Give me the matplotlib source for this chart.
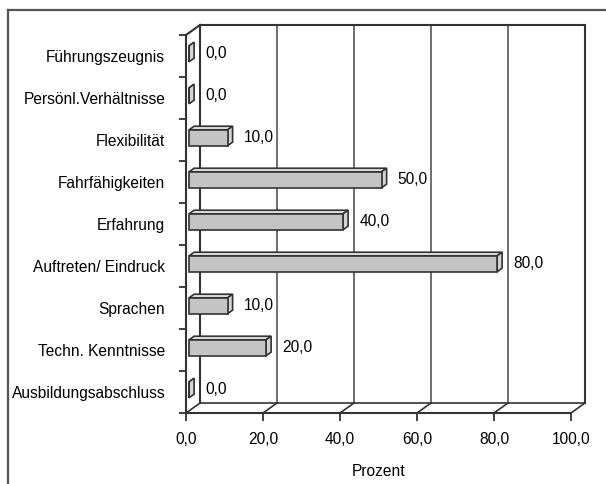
import numpy as np
import matplotlib
matplotlib.use("Agg")
from matplotlib import pyplot as plt
from matplotlib.patches import Polygon
from matplotlib.lines import Line2D

kategorien = ["Führungszeugnis", "Persönl.Verhältnisse", "Flexibilität",
              "Fahrfähigkeiten", "Erfahrung", "Auftreten/ Eindruck",
              "Sprachen", "Techn. Kenntnisse", "Ausbildungsabschluss"]
prozent = [0.0, 0.0, 10.0, 50.0, 40.0, 80.0, 10.0, 20.0, 0.0]
xwerte = [0, 20, 40, 60, 80, 100]

plt.rcParams['font.family'] = ['Liberation Sans', 'DejaVu Sans']
plt.rcParams['font.size'] = 11.2

dunkel = '#333333'
W, H = 606, 484
fig = plt.figure(figsize=(W / 100, H / 100), dpi=100)
ax = fig.add_axes([186 / W, 71 / H, 385 / W, 378 / H])
n = len(kategorien)
ax.set_xlim(0, 100)
ax.set_ylim(n - 0.5, -0.5)
for s in ax.spines.values():
    s.set_visible(False)

# Tiefe der 3D-Box in Datenkoordinaten (14 px nach rechts, 10 px nach oben)
DX = 14 / (385 / 100)
DY = -10 / (378 / n)
oben, unten = -0.5, n - 0.5


def linie(xs, ys, **kw):
    kw.setdefault('color', dunkel)
    kw.setdefault('lw', 1.5)
    ax.add_line(Line2D(xs, ys, clip_on=False, solid_capstyle='projecting', **kw))


# Rueckwand
ax.add_patch(Polygon([(DX, oben + DY), (100 + DX, oben + DY),
                      (100 + DX, unten + DY), (DX, unten + DY)],
                     closed=True, fc='white', ec='none', clip_on=False, zorder=0))
for x in xwerte[1:-1]:
    linie([x + DX, x + DX], [oben + DY, unten + DY], color='#555555', lw=1.2)
linie([100 + DX, 100 + DX], [oben + DY, unten + DY])
linie([DX, 100 + DX], [oben + DY, oben + DY])
linie([DX, DX], [oben + DY, unten + DY])
# linke Wand
linie([0, DX], [oben, oben + DY])
linie([0, 0], [oben, unten])
# Boden
linie([0, 100], [unten, unten])
linie([DX, 100 + DX], [unten + DY, unten + DY], lw=1.2)
for x in xwerte:
    linie([x, x + DX], [unten, unten + DY], lw=1.2)

# Balken
f0, f1 = 0.22, 0.58
h = 0.19
for i, v in enumerate(prozent):
    xa0, xe0 = f0 * DX, v + f0 * DX
    xa1, xe1 = f1 * DX, v + f1 * DX
    yt0, yb0 = i - h + f0 * DY, i + h + f0 * DY
    yt1, yb1 = i - h + f1 * DY, i + h + f1 * DY
    top = [(xa0, yt0), (xe0, yt0), (xe1, yt1), (xa1, yt1)]
    side = [(xe0, yt0), (xe0, yb0), (xe1, yb1), (xe1, yt1)]
    front = [(xa0, yt0), (xe0, yt0), (xe0, yb0), (xa0, yb0)]
    for pts, fc in [(top, '#dedede'), (side, '#d4d4d4'), (front, '#c4c4c4')]:
        ax.add_patch(Polygon(pts, closed=True, fc=fc, ec=dunkel, lw=1.2,
                             joinstyle='miter', clip_on=False, zorder=3))
    ax.text(v + 5, i - 0.05, f"{v:.1f}".replace('.', ','),
            ha='left', va='center', zorder=4)

# Achsen
ax.set_xticks(xwerte)
ax.set_xticklabels([f"{x:.1f}".replace('.', ',') for x in xwerte])
ax.tick_params(axis='x', length=6, width=1.3, color=dunkel, pad=8)
ax.set_yticks(np.arange(-0.5, n), labels=[])
ax.set_yticks(np.arange(n), labels=kategorien, minor=True)
ax.tick_params(axis='y', which='major', length=5, width=1.3, color=dunkel)
ax.tick_params(axis='y', which='minor', length=0, pad=15)
ax.set_xlabel("Prozent", labelpad=12)

# Rahmen
fig.add_artist(Line2D([8 / W, 8 / W], [0, 474 / H], transform=fig.transFigure,
                      color='#555555', lw=1.6))
fig.add_artist(Line2D([8 / W, 1], [474 / H, 474 / H], transform=fig.transFigure,
                      color='#555555', lw=1.6))

fig.savefig("out.png", dpi=100, facecolor='white')
